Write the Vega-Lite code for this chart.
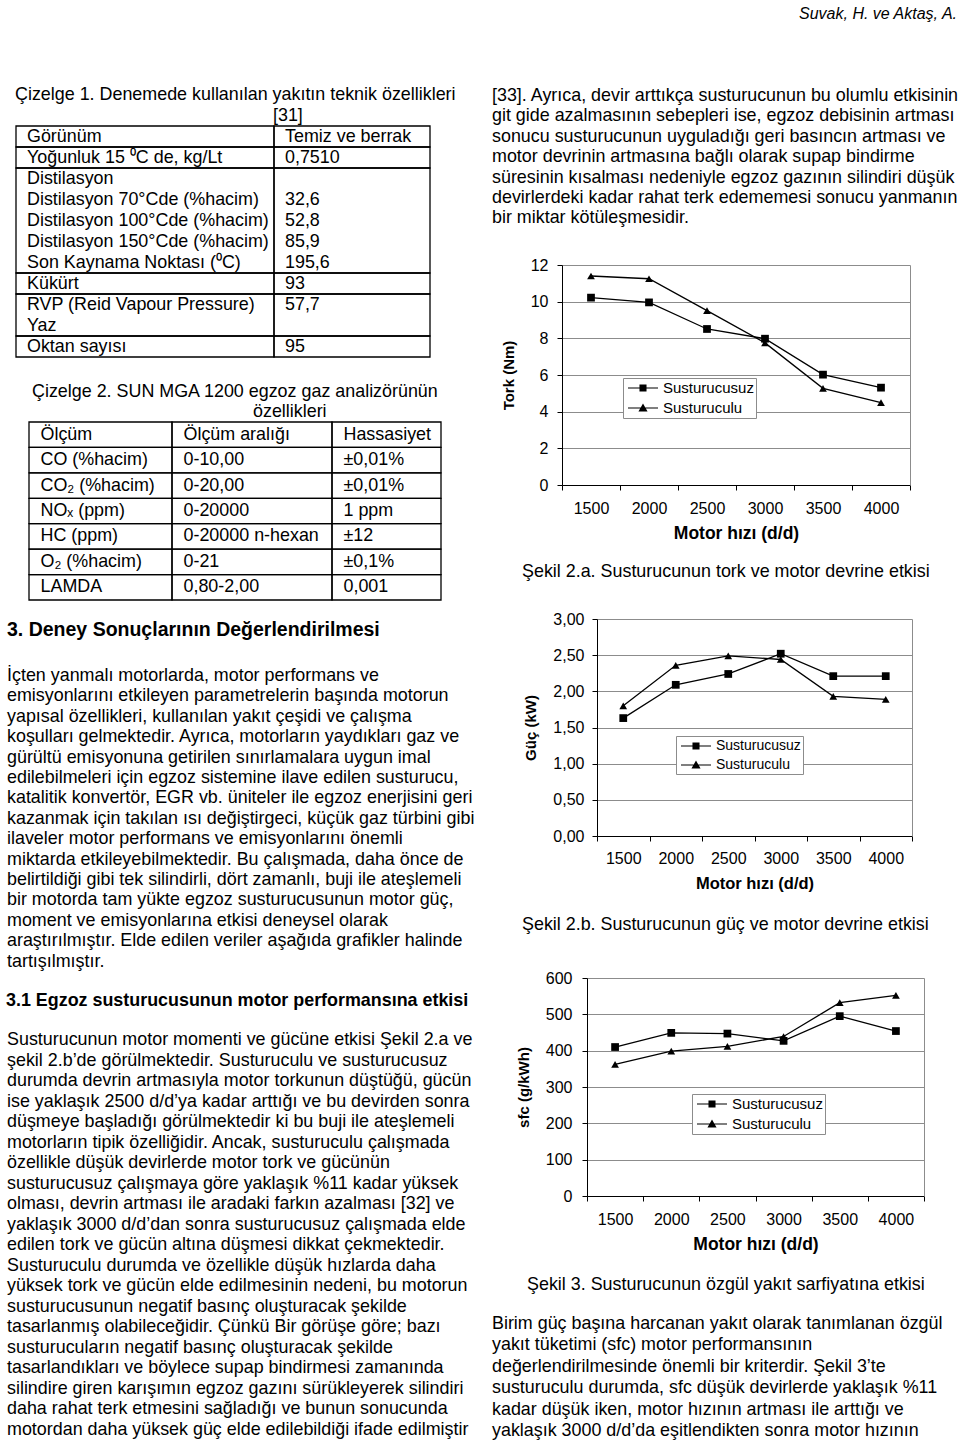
{
 "$schema": "https://vega.github.io/schema/vega-lite/v6.json",
 "width": 960,
 "height": 1448,
 "autosize": {"type": "none"},
 "padding": 0,
 "background": "white",
 "config": {
  "view": {"stroke": null},
  "font": "Liberation Sans",
  "text": {"font": "Liberation Sans", "fontSize": 17.9, "color": "black", "align": "left", "baseline": "middle"},
  "axis": {"labelFont": "Liberation Sans", "titleFont": "Liberation Sans", "labelColor": "black", "titleColor": "black", "domainColor": "black", "tickColor": "black", "gridColor": "#8c8c8c", "labelFontSize": 16, "tickSize": 5, "domainWidth": 1, "tickWidth": 1, "gridWidth": 1},
  "legend": {"labelFont": "Liberation Sans", "labelColor": "black"}
 },
 "datasets": {
  "tork": [
   {"speed": 1500, "series": "Susturucusuz", "value": 10.22},
   {"speed": 2000, "series": "Susturucusuz", "value": 9.96},
   {"speed": 2500, "series": "Susturucusuz", "value": 8.51},
   {"speed": 3000, "series": "Susturucusuz", "value": 7.98},
   {"speed": 3500, "series": "Susturucusuz", "value": 6.02},
   {"speed": 4000, "series": "Susturucusuz", "value": 5.31},
   {"speed": 1500, "series": "Susturuculu", "value": 11.40},
   {"speed": 2000, "series": "Susturuculu", "value": 11.25},
   {"speed": 2500, "series": "Susturuculu", "value": 9.51},
   {"speed": 3000, "series": "Susturuculu", "value": 7.75},
   {"speed": 3500, "series": "Susturuculu", "value": 5.27},
   {"speed": 4000, "series": "Susturuculu", "value": 4.49}
  ],
  "guc": [
   {"speed": 1500, "series": "Susturucusuz", "value": 1.63},
   {"speed": 2000, "series": "Susturucusuz", "value": 2.09},
   {"speed": 2500, "series": "Susturucusuz", "value": 2.24},
   {"speed": 3000, "series": "Susturucusuz", "value": 2.52},
   {"speed": 3500, "series": "Susturucusuz", "value": 2.21},
   {"speed": 4000, "series": "Susturucusuz", "value": 2.21},
   {"speed": 1500, "series": "Susturuculu", "value": 1.80},
   {"speed": 2000, "series": "Susturuculu", "value": 2.36},
   {"speed": 2500, "series": "Susturuculu", "value": 2.49},
   {"speed": 3000, "series": "Susturuculu", "value": 2.44},
   {"speed": 3500, "series": "Susturuculu", "value": 1.93},
   {"speed": 4000, "series": "Susturuculu", "value": 1.89}
  ],
  "sfc": [
   {"speed": 1500, "series": "Susturucusuz", "value": 410},
   {"speed": 2000, "series": "Susturucusuz", "value": 449},
   {"speed": 2500, "series": "Susturucusuz", "value": 447},
   {"speed": 3000, "series": "Susturucusuz", "value": 427},
   {"speed": 3500, "series": "Susturucusuz", "value": 495},
   {"speed": 4000, "series": "Susturucusuz", "value": 454},
   {"speed": 1500, "series": "Susturuculu", "value": 362},
   {"speed": 2000, "series": "Susturuculu", "value": 399},
   {"speed": 2500, "series": "Susturuculu", "value": 412},
   {"speed": 3000, "series": "Susturuculu", "value": 439},
   {"speed": 3500, "series": "Susturuculu", "value": 532},
   {"speed": 4000, "series": "Susturuculu", "value": 552}
  ]
 },
 "layer": [
  {
   "data": {"values": [{"line": 0, "text": "Suvak, H. ve Aktaş, A."}]},
   "mark": {"type": "text", "align": "right", "fontStyle": "italic", "fontSize": 16},
   "encoding": {
    "x": {"datum": 0, "type": "quantitative", "scale": {"domain": [0, 1], "range": [957, 1000]}, "axis": null},
    "y": {"field": "line", "type": "quantitative", "scale": {"domain": [0, 1], "range": [14, 34], "zero": false, "nice": false}, "axis": null},
    "text": {"field": "text"}
   }
  },
  {
   "layer": [
    {
     "data": {"values": [
      {"c0": 0, "c1": 1, "r0": 0, "r1": 1}, {"c0": 1, "c1": 2, "r0": 0, "r1": 1},
      {"c0": 0, "c1": 1, "r0": 1, "r1": 2}, {"c0": 1, "c1": 2, "r0": 1, "r1": 2},
      {"c0": 0, "c1": 1, "r0": 2, "r1": 7}, {"c0": 1, "c1": 2, "r0": 2, "r1": 7},
      {"c0": 0, "c1": 1, "r0": 7, "r1": 8}, {"c0": 1, "c1": 2, "r0": 7, "r1": 8},
      {"c0": 0, "c1": 1, "r0": 8, "r1": 10}, {"c0": 1, "c1": 2, "r0": 8, "r1": 10},
      {"c0": 0, "c1": 1, "r0": 10, "r1": 11}, {"c0": 1, "c1": 2, "r0": 10, "r1": 11}
     ]},
     "mark": {"type": "rect", "filled": false, "color": "black", "strokeWidth": 1.3},
     "encoding": {
      "x": {"field": "c0", "type": "quantitative", "scale": {"domain": [0, 1, 2], "range": [16, 274, 430], "zero": false, "nice": false}, "axis": null},
      "x2": {"field": "c1"},
      "y": {"field": "r0", "type": "quantitative", "scale": {"domain": [0, 11], "range": [126, 357], "zero": false, "nice": false}, "axis": null},
      "y2": {"field": "r1"}
     }
    },
    {
     "data": {"values": [
      {"line": -2, "col": 0, "text": "Çizelge 1. Denemede kullanılan yakıtın teknik özellikleri"},
      {"line": -1, "col": 1, "text": "[31]"}
     ]},
     "mark": {"type": "text", "dx": -1, "dy": 10.5},
     "encoding": {
      "x": {"field": "col", "type": "quantitative", "scale": {"domain": [0, 1, 2], "range": [16, 274, 430], "zero": false, "nice": false}, "axis": null},
      "y": {"field": "line", "type": "quantitative", "scale": {"domain": [0, 11], "range": [126, 357], "zero": false, "nice": false}, "axis": null},
      "text": {"field": "text"}
     }
    },
    {
     "data": {"values": [
      {"line": 0, "col": 0, "text": "Görünüm"}, {"line": 0, "col": 1, "text": "Temiz ve berrak"},
      {"line": 1, "col": 0, "text": "Yoğunluk 15 ⁰C de, kg/Lt"}, {"line": 1, "col": 1, "text": "0,7510"},
      {"line": 2, "col": 0, "text": "Distilasyon"},
      {"line": 3, "col": 0, "text": "Distilasyon   70°Cde  (%hacim)"}, {"line": 3, "col": 1, "text": "32,6"},
      {"line": 4, "col": 0, "text": "Distilasyon  100°Cde (%hacim)"}, {"line": 4, "col": 1, "text": "52,8"},
      {"line": 5, "col": 0, "text": "Distilasyon  150°Cde (%hacim)"}, {"line": 5, "col": 1, "text": "85,9"},
      {"line": 6, "col": 0, "text": "Son Kaynama Noktası (⁰C)"}, {"line": 6, "col": 1, "text": "195,6"},
      {"line": 7, "col": 0, "text": "Kükürt"}, {"line": 7, "col": 1, "text": "93"},
      {"line": 8, "col": 0, "text": "RVP  (Reid  Vapour  Pressure)"}, {"line": 8, "col": 1, "text": "57,7"},
      {"line": 9, "col": 0, "text": "Yaz"},
      {"line": 10, "col": 0, "text": "Oktan sayısı"}, {"line": 10, "col": 1, "text": "95"}
     ]},
     "mark": {"type": "text", "dx": 11, "dy": 10.5},
     "encoding": {
      "x": {"field": "col", "type": "quantitative", "scale": {"domain": [0, 1, 2], "range": [16, 274, 430], "zero": false, "nice": false}, "axis": null},
      "y": {"field": "line", "type": "quantitative", "scale": {"domain": [0, 11], "range": [126, 357], "zero": false, "nice": false}, "axis": null},
      "text": {"field": "text"}
     }
    }
   ]
  },
  {
   "data": {"values": [{"line": 0, "text": "Çizelge 2. SUN MGA 1200 egzoz gaz analizörünün"}]},
   "mark": {"type": "text"},
   "encoding": {
    "x": {"datum": 0, "type": "quantitative", "scale": {"domain": [0, 1], "range": [32, 100]}, "axis": null},
    "y": {"field": "line", "type": "quantitative", "scale": {"domain": [0, 1], "range": [392, 412], "zero": false, "nice": false}, "axis": null},
    "text": {"field": "text"}
   }
  },
  {
   "data": {"values": [{"line": 1, "text": "özellikleri"}]},
   "mark": {"type": "text"},
   "encoding": {
    "x": {"datum": 0, "type": "quantitative", "scale": {"domain": [0, 1], "range": [253, 300]}, "axis": null},
    "y": {"field": "line", "type": "quantitative", "scale": {"domain": [0, 1], "range": [392, 412], "zero": false, "nice": false}, "axis": null},
    "text": {"field": "text"}
   }
  },
  {
   "layer": [
    {
     "data": {"values": [
      {"c0": 0, "c1": 1, "r0": 0, "r1": 1}, {"c0": 1, "c1": 2, "r0": 0, "r1": 1}, {"c0": 2, "c1": 3, "r0": 0, "r1": 1},
      {"c0": 0, "c1": 1, "r0": 1, "r1": 2}, {"c0": 1, "c1": 2, "r0": 1, "r1": 2}, {"c0": 2, "c1": 3, "r0": 1, "r1": 2},
      {"c0": 0, "c1": 1, "r0": 2, "r1": 3}, {"c0": 1, "c1": 2, "r0": 2, "r1": 3}, {"c0": 2, "c1": 3, "r0": 2, "r1": 3},
      {"c0": 0, "c1": 1, "r0": 3, "r1": 4}, {"c0": 1, "c1": 2, "r0": 3, "r1": 4}, {"c0": 2, "c1": 3, "r0": 3, "r1": 4},
      {"c0": 0, "c1": 1, "r0": 4, "r1": 5}, {"c0": 1, "c1": 2, "r0": 4, "r1": 5}, {"c0": 2, "c1": 3, "r0": 4, "r1": 5},
      {"c0": 0, "c1": 1, "r0": 5, "r1": 6}, {"c0": 1, "c1": 2, "r0": 5, "r1": 6}, {"c0": 2, "c1": 3, "r0": 5, "r1": 6},
      {"c0": 0, "c1": 1, "r0": 6, "r1": 7}, {"c0": 1, "c1": 2, "r0": 6, "r1": 7}, {"c0": 2, "c1": 3, "r0": 6, "r1": 7}
     ]},
     "mark": {"type": "rect", "filled": false, "color": "black", "strokeWidth": 1.3},
     "encoding": {
      "x": {"field": "c0", "type": "quantitative", "scale": {"domain": [0, 1, 2, 3], "range": [29, 172, 332, 441], "zero": false, "nice": false}, "axis": null},
      "x2": {"field": "c1"},
      "y": {"field": "r0", "type": "quantitative", "scale": {"domain": [0, 7], "range": [422, 600], "zero": false, "nice": false}, "axis": null},
      "y2": {"field": "r1"}
     }
    },
    {
     "data": {"values": [
      {"line": 0, "col": 0, "text": "Ölçüm"}, {"line": 0, "col": 1, "text": "Ölçüm aralığı"}, {"line": 0, "col": 2, "text": "Hassasiyet"},
      {"line": 1, "col": 0, "text": "CO (%hacim)"}, {"line": 1, "col": 1, "text": "0-10,00"}, {"line": 1, "col": 2, "text": "±0,01%"},
      {"line": 2, "col": 0, "text": "CO₂ (%hacim)"}, {"line": 2, "col": 1, "text": "0-20,00"}, {"line": 2, "col": 2, "text": "±0,01%"},
      {"line": 3, "col": 0, "text": " NOₓ (ppm)"}, {"line": 3, "col": 1, "text": "0-20000"}, {"line": 3, "col": 2, "text": " 1 ppm"},
      {"line": 4, "col": 0, "text": "HC (ppm)"}, {"line": 4, "col": 1, "text": "0-20000 n-hexan"}, {"line": 4, "col": 2, "text": "±12"},
      {"line": 5, "col": 0, "text": "O₂ (%hacim)"}, {"line": 5, "col": 1, "text": "0-21"}, {"line": 5, "col": 2, "text": "±0,1%"},
      {"line": 6, "col": 0, "text": "LAMDA"}, {"line": 6, "col": 1, "text": "0,80-2,00"}, {"line": 6, "col": 2, "text": "0,001"}
     ]},
     "mark": {"type": "text", "dx": 11.5, "dy": 12.7},
     "encoding": {
      "x": {"field": "col", "type": "quantitative", "scale": {"domain": [0, 1, 2, 3], "range": [29, 172, 332, 441], "zero": false, "nice": false}, "axis": null},
      "y": {"field": "line", "type": "quantitative", "scale": {"domain": [0, 7], "range": [422, 600], "zero": false, "nice": false}, "axis": null},
      "text": {"field": "text"}
     }
    }
   ]
  },
  {
   "data": {"values": [{"line": 0, "text": "3. Deney Sonuçlarının Değerlendirilmesi"}]},
   "mark": {"type": "text", "fontWeight": "bold", "fontSize": 19.5},
   "encoding": {
    "x": {"datum": 0, "type": "quantitative", "scale": {"domain": [0, 1], "range": [7, 100]}, "axis": null},
    "y": {"field": "line", "type": "quantitative", "scale": {"domain": [0, 1], "range": [630, 650], "zero": false, "nice": false}, "axis": null},
    "text": {"field": "text"}
   }
  },
  {
   "data": {"values": [
    {"line": 0, "text": "İçten yanmalı motorlarda, motor performans ve"},
    {"line": 1, "text": "emisyonlarını etkileyen parametrelerin başında motorun"},
    {"line": 2, "text": "yapısal özellikleri, kullanılan yakıt çeşidi ve çalışma"},
    {"line": 3, "text": "koşulları gelmektedir. Ayrıca, motorların yaydıkları gaz ve"},
    {"line": 4, "text": "gürültü emisyonuna getirilen sınırlamalara uygun imal"},
    {"line": 5, "text": "edilebilmeleri için egzoz sistemine ilave edilen susturucu,"},
    {"line": 6, "text": "katalitik konvertör, EGR vb. üniteler ile egzoz enerjisini geri"},
    {"line": 7, "text": "kazanmak için takılan ısı değiştirgeci, küçük gaz türbini gibi"},
    {"line": 8, "text": "ilaveler motor performans ve emisyonlarını önemli"},
    {"line": 9, "text": "miktarda etkileyebilmektedir. Bu çalışmada, daha önce de"},
    {"line": 10, "text": "belirtildiği gibi tek silindirli, dört zamanlı, buji ile ateşlemeli"},
    {"line": 11, "text": "bir motorda tam yükte egzoz susturucusunun motor güç,"},
    {"line": 12, "text": "moment ve emisyonlarına etkisi deneysel olarak"},
    {"line": 13, "text": "araştırılmıştır. Elde edilen veriler aşağıda grafikler halinde"},
    {"line": 14, "text": "tartışılmıştır."}
   ]},
   "mark": {"type": "text"},
   "encoding": {
    "x": {"datum": 0, "type": "quantitative", "scale": {"domain": [0, 1], "range": [7, 100]}, "axis": null},
    "y": {"field": "line", "type": "quantitative", "scale": {"domain": [0, 14], "range": [676, 961.6], "zero": false, "nice": false}, "axis": null},
    "text": {"field": "text"}
   }
  },
  {
   "data": {"values": [{"line": 0, "text": "3.1 Egzoz susturucusunun motor performansına etkisi"}]},
   "mark": {"type": "text", "fontWeight": "bold"},
   "encoding": {
    "x": {"datum": 0, "type": "quantitative", "scale": {"domain": [0, 1], "range": [6, 100]}, "axis": null},
    "y": {"field": "line", "type": "quantitative", "scale": {"domain": [0, 1], "range": [1001, 1021], "zero": false, "nice": false}, "axis": null},
    "text": {"field": "text"}
   }
  },
  {
   "data": {"values": [
    {"line": 0, "text": "Susturucunun motor momenti ve gücüne etkisi Şekil 2.a ve"},
    {"line": 1, "text": "şekil 2.b’de görülmektedir. Susturuculu ve susturucusuz"},
    {"line": 2, "text": "durumda devrin artmasıyla motor torkunun düştüğü, gücün"},
    {"line": 3, "text": "ise yaklaşık 2500 d/d’ya kadar arttığı ve bu devirden sonra"},
    {"line": 4, "text": "düşmeye başladığı görülmektedir ki bu buji ile ateşlemeli"},
    {"line": 5, "text": "motorların tipik özelliğidir. Ancak, susturuculu çalışmada"},
    {"line": 6, "text": "özellikle düşük devirlerde motor tork ve gücünün"},
    {"line": 7, "text": "susturucusuz çalışmaya göre yaklaşık %11 kadar yüksek"},
    {"line": 8, "text": "olması, devrin artması ile aradaki farkın azalması [32] ve"},
    {"line": 9, "text": "yaklaşık 3000 d/d’dan sonra susturucusuz çalışmada elde"},
    {"line": 10, "text": "edilen tork ve gücün altına düşmesi dikkat çekmektedir."},
    {"line": 11, "text": "Susturuculu durumda ve özellikle düşük hızlarda daha"},
    {"line": 12, "text": "yüksek tork ve gücün elde edilmesinin nedeni, bu motorun"},
    {"line": 13, "text": "susturucusunun negatif basınç oluşturacak şekilde"},
    {"line": 14, "text": "tasarlanmış olabileceğidir. Çünkü Bir görüşe göre; bazı"},
    {"line": 15, "text": "susturucuların negatif basınç oluşturacak şekilde"},
    {"line": 16, "text": "tasarlandıkları ve böylece supap bindirmesi zamanında"},
    {"line": 17, "text": "silindire giren karışımın egzoz gazını sürükleyerek silindiri"},
    {"line": 18, "text": "daha rahat terk etmesini sağladığı ve bunun sonucunda"},
    {"line": 19, "text": "motordan daha yüksek güç elde edilebildiği ifade edilmiştir"}
   ]},
   "mark": {"type": "text"},
   "encoding": {
    "x": {"datum": 0, "type": "quantitative", "scale": {"domain": [0, 1], "range": [7, 100]}, "axis": null},
    "y": {"field": "line", "type": "quantitative", "scale": {"domain": [0, 19], "range": [1040, 1430], "zero": false, "nice": false}, "axis": null},
    "text": {"field": "text"}
   }
  },
  {
   "data": {"values": [
    {"line": 0, "text": "[33]. Ayrıca, devir arttıkça susturucunun bu olumlu etkisinin"},
    {"line": 1, "text": "git gide azalmasının sebepleri ise, egzoz debisinin artması"},
    {"line": 2, "text": "sonucu susturucunun uyguladığı geri basıncın artması ve"},
    {"line": 3, "text": "motor devrinin artmasına bağlı olarak supap bindirme"},
    {"line": 4, "text": "süresinin kısalması nedeniyle egzoz gazının silindiri düşük"},
    {"line": 5, "text": "devirlerdeki kadar rahat terk edememesi sonucu yanmanın"},
    {"line": 6, "text": "bir miktar kötüleşmesidir."}
   ]},
   "mark": {"type": "text"},
   "encoding": {
    "x": {"datum": 0, "type": "quantitative", "scale": {"domain": [0, 1], "range": [492, 600]}, "axis": null},
    "y": {"field": "line", "type": "quantitative", "scale": {"domain": [0, 6], "range": [96, 218.4], "zero": false, "nice": false}, "axis": null},
    "text": {"field": "text"}
   }
  },
  {
   "data": {"name": "tork"},
   "encoding": {
    "x": {"field": "speed", "type": "ordinal", "scale": {"type": "band", "range": [562, 910], "paddingInner": 0, "paddingOuter": 0},
     "axis": {"orient": "bottom", "offset": -963, "title": "Motor  hızı (d/d)", "titleFontSize": 17.5, "titleFontWeight": "bold", "titlePadding": 8, "labelAngle": 0, "labelPadding": 10, "tickBand": "extent", "grid": false}}
   },
   "layer": [
    {"mark": {"type": "line", "color": "black", "strokeWidth": 1.3},
     "encoding": {
      "y": {"field": "value", "type": "quantitative", "scale": {"domain": [0, 12], "range": [485, 265], "nice": false, "zero": false},
       "axis": {"orient": "left", "offset": -562, "title": "Tork (Nm)", "values": [0, 2, 4, 6, 8, 10, 12], "titleFontSize": 15, "titleFontWeight": "bold", "titlePadding": 14, "labelPadding": 9, "grid": true}},
      "detail": {"field": "series"}
     }},
    {"mark": {"type": "point", "filled": true, "color": "black", "size": 60, "opacity": 1},
     "encoding": {
      "y": {"field": "value", "type": "quantitative", "axis": {"orient": "right", "offset": -50, "labels": false, "ticks": false, "grid": false, "domainColor": "#8c8c8c", "title": null}},
      "shape": {"field": "series", "scale": {"domain": ["Susturucusuz", "Susturuculu"], "range": ["square", "triangle-up"]}, "legend": null}
     }},
    {"mark": {"type": "point", "filled": true, "color": "black", "opacity": 0},
     "encoding": {
      "y": {"field": "value", "type": "quantitative", "axis": null},
      "shape": {"field": "series", "scale": {"domain": ["Susturucusuz", "Susturuculu"], "range": ["M-0.625,-0.07H3.125V0.07H-0.625ZM0.81,-0.44H1.69V0.44H0.81Z", "M-0.625,-0.07H3.125V0.07H-0.625ZM1.25,-0.56L1.82,0.44H0.68Z"]},
       "legend": {"orient": "none", "legendX": 623, "legendY": 378, "direction": "vertical", "title": null, "labelFontSize": 15, "labelOffset": 22, "symbolSize": 256, "symbolFillColor": "black", "symbolStrokeWidth": 0, "symbolOpacity": 1, "rowPadding": 4, "padding": 2, "strokeColor": "#8c8c8c", "fillColor": "white"}}
     }}
   ],
   "resolve": {"scale": {"shape": "independent"}, "axis": {"y": "independent"}}
  },
  {
   "data": {"values": [{"line": 0, "text": "Şekil 2.a. Susturucunun tork ve motor devrine etkisi"}]},
   "mark": {"type": "text"},
   "encoding": {
    "x": {"datum": 0, "type": "quantitative", "scale": {"domain": [0, 1], "range": [522, 600]}, "axis": null},
    "y": {"field": "line", "type": "quantitative", "scale": {"domain": [0, 1], "range": [572, 592], "zero": false, "nice": false}, "axis": null},
    "text": {"field": "text"}
   }
  },
  {
   "data": {"name": "guc"},
   "encoding": {
    "x": {"field": "speed", "type": "ordinal", "scale": {"type": "band", "range": [597, 912], "paddingInner": 0, "paddingOuter": 0},
     "axis": {"orient": "bottom", "offset": -612, "title": "Motor hızı (d/d)", "titleFontSize": 16.5, "titleFontWeight": "bold", "titlePadding": 9, "labelAngle": 0, "labelPadding": 9, "tickBand": "extent", "grid": false}}
   },
   "layer": [
    {"mark": {"type": "line", "color": "black", "strokeWidth": 1.3},
     "encoding": {
      "y": {"field": "value", "type": "quantitative", "scale": {"domain": [0, 3], "range": [836, 619], "nice": false, "zero": false},
       "axis": {"orient": "left", "offset": -597, "title": "Güç (kW)", "values": [0, 0.5, 1, 1.5, 2, 2.5, 3], "labelExpr": "replace(format(datum.value, '.2f'), '.', ',')", "titleFontSize": 15, "titleFontWeight": "bold", "titlePadding": 14, "labelPadding": 8, "grid": true}},
      "detail": {"field": "series"}
     }},
    {"mark": {"type": "point", "filled": true, "color": "black", "size": 60, "opacity": 1},
     "encoding": {
      "y": {"field": "value", "type": "quantitative", "axis": {"orient": "right", "offset": -48, "labels": false, "ticks": false, "grid": false, "domainColor": "#8c8c8c", "title": null}},
      "shape": {"field": "series", "scale": {"domain": ["Susturucusuz", "Susturuculu"], "range": ["square", "triangle-up"]}, "legend": null}
     }},
    {"mark": {"type": "point", "filled": true, "color": "black", "opacity": 0},
     "encoding": {
      "y": {"field": "value", "type": "quantitative", "axis": null},
      "shape": {"field": "series", "scale": {"domain": ["Susturucusuz", "Susturuculu"], "range": ["M-0.625,-0.07H3.125V0.07H-0.625ZM0.81,-0.44H1.69V0.44H0.81Z", "M-0.625,-0.07H3.125V0.07H-0.625ZM1.25,-0.56L1.82,0.44H0.68Z"]},
       "legend": {"orient": "none", "legendX": 676, "legendY": 736, "direction": "vertical", "title": null, "labelFontSize": 14, "labelOffset": 22, "symbolSize": 256, "symbolFillColor": "black", "symbolStrokeWidth": 0, "symbolOpacity": 1, "rowPadding": 4, "padding": 2, "strokeColor": "#8c8c8c", "fillColor": "white"}}
     }}
   ],
   "resolve": {"scale": {"shape": "independent"}, "axis": {"y": "independent"}}
  },
  {
   "data": {"values": [{"line": 0, "text": "Şekil 2.b. Susturucunun güç ve motor devrine etkisi"}]},
   "mark": {"type": "text"},
   "encoding": {
    "x": {"datum": 0, "type": "quantitative", "scale": {"domain": [0, 1], "range": [522, 600]}, "axis": null},
    "y": {"field": "line", "type": "quantitative", "scale": {"domain": [0, 1], "range": [925, 945], "zero": false, "nice": false}, "axis": null},
    "text": {"field": "text"}
   }
  },
  {
   "data": {"name": "sfc"},
   "encoding": {
    "x": {"field": "speed", "type": "ordinal", "scale": {"type": "band", "range": [587, 924], "paddingInner": 0, "paddingOuter": 0},
     "axis": {"orient": "bottom", "offset": -252, "title": "Motor hızı (d/d)", "titleFontSize": 17.5, "titleFontWeight": "bold", "titlePadding": 8, "labelAngle": 0, "labelPadding": 10, "tickBand": "extent", "grid": false}}
   },
   "layer": [
    {"mark": {"type": "line", "color": "black", "strokeWidth": 1.3},
     "encoding": {
      "y": {"field": "value", "type": "quantitative", "scale": {"domain": [0, 600], "range": [1196, 978], "nice": false, "zero": false},
       "axis": {"orient": "left", "offset": -587, "title": "sfc (g/kWh)", "values": [0, 100, 200, 300, 400, 500, 600], "titleFontSize": 15, "titleFontWeight": "bold", "titlePadding": 14, "labelPadding": 10, "grid": true}},
      "detail": {"field": "series"}
     }},
    {"mark": {"type": "point", "filled": true, "color": "black", "size": 60, "opacity": 1},
     "encoding": {
      "y": {"field": "value", "type": "quantitative", "axis": {"orient": "right", "offset": -36, "labels": false, "ticks": false, "grid": false, "domainColor": "#8c8c8c", "title": null}},
      "shape": {"field": "series", "scale": {"domain": ["Susturucusuz", "Susturuculu"], "range": ["square", "triangle-up"]}, "legend": null}
     }},
    {"mark": {"type": "point", "filled": true, "color": "black", "opacity": 0},
     "encoding": {
      "y": {"field": "value", "type": "quantitative", "axis": null},
      "shape": {"field": "series", "scale": {"domain": ["Susturucusuz", "Susturuculu"], "range": ["M-0.625,-0.07H3.125V0.07H-0.625ZM0.81,-0.44H1.69V0.44H0.81Z", "M-0.625,-0.07H3.125V0.07H-0.625ZM1.25,-0.56L1.82,0.44H0.68Z"]},
       "legend": {"orient": "none", "legendX": 692, "legendY": 1094, "direction": "vertical", "title": null, "labelFontSize": 15, "labelOffset": 22, "symbolSize": 256, "symbolFillColor": "black", "symbolStrokeWidth": 0, "symbolOpacity": 1, "rowPadding": 4, "padding": 2, "strokeColor": "#8c8c8c", "fillColor": "white"}}
     }}
   ],
   "resolve": {"scale": {"shape": "independent"}, "axis": {"y": "independent"}}
  },
  {
   "data": {"values": [{"line": 0, "text": "Şekil 3. Susturucunun özgül yakıt sarfiyatına etkisi"}]},
   "mark": {"type": "text"},
   "encoding": {
    "x": {"datum": 0, "type": "quantitative", "scale": {"domain": [0, 1], "range": [527, 600]}, "axis": null},
    "y": {"field": "line", "type": "quantitative", "scale": {"domain": [0, 1], "range": [1285, 1305], "zero": false, "nice": false}, "axis": null},
    "text": {"field": "text"}
   }
  },
  {
   "data": {"values": [
    {"line": 0, "text": "Birim güç başına harcanan yakıt olarak tanımlanan özgül"},
    {"line": 1, "text": "yakıt tüketimi (sfc) motor performansının"},
    {"line": 2, "text": "değerlendirilmesinde önemli bir kriterdir. Şekil 3’te"},
    {"line": 3, "text": "susturuculu durumda, sfc düşük devirlerde yaklaşık %11"},
    {"line": 4, "text": "kadar düşük iken, motor hızının artması ile arttığı ve"},
    {"line": 5, "text": "yaklaşık 3000 d/d’da eşitlendikten sonra motor hızının"}
   ]},
   "mark": {"type": "text"},
   "encoding": {
    "x": {"datum": 0, "type": "quantitative", "scale": {"domain": [0, 1], "range": [492, 600]}, "axis": null},
    "y": {"field": "line", "type": "quantitative", "scale": {"domain": [0, 5], "range": [1324, 1431], "zero": false, "nice": false}, "axis": null},
    "text": {"field": "text"}
   }
  }
 ],
 "resolve": {
  "scale": {"x": "independent", "y": "independent", "shape": "independent"},
  "axis": {"x": "independent", "y": "independent"},
  "legend": {"shape": "independent"}
 }
}
